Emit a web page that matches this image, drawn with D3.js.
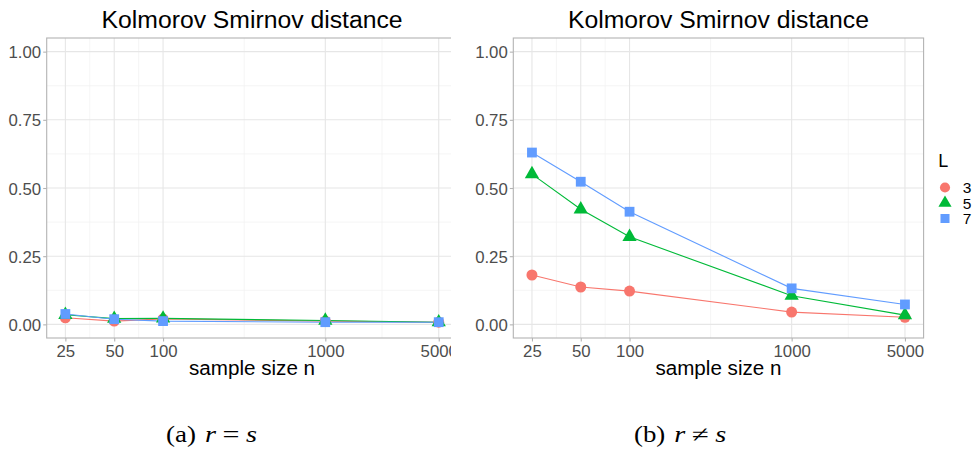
<!DOCTYPE html>
<html><head><meta charset="utf-8">
<script src="https://cdn.jsdelivr.net/npm/d3@7"></script>
<style>
html,body{margin:0;padding:0;background:#fff;}
svg{display:block;}
</style></head>
<body>
<svg id="chart" width="973" height="451"></svg>
<script>
// ---- data ----
const sampleSizes = [25, 50, 100, 1000, 5000];
const xTickLabels = ["25", "50", "100", "1000", "5000"];
const yTicks = [0, 0.25, 0.5, 0.75, 1];
const yTickLabels = ["0.00", "0.25", "0.50", "0.75", "1.00"];
const seriesNames = ["3", "5", "7"];
const colors = ["#F8766D", "#00BA38", "#619CFF"];
const title = "Kolmorov Smirnov distance";
const xTitle = "sample size n";
const legendTitle = "L";

// panel (a) r = s
const eqL3 = [0.024, 0.012, 0.020, 0.012, 0.008];
const eqL5 = [0.035, 0.021, 0.022, 0.014, 0.008];
const eqL7 = [0.038, 0.019, 0.012, 0.008, 0.008];
// panel (b) r != s
const neqL3 = [0.181, 0.137, 0.122, 0.045, 0.026];
const neqL5 = [0.551, 0.422, 0.321, 0.105, 0.034];
const neqL7 = [0.630, 0.523, 0.413, 0.132, 0.073];

const svg = d3.select("#chart");
const FONT = "'Liberation Sans', Arial, Helvetica, sans-serif";

const pTop = 38, pBottom = 338;
const y = d3.scaleLinear().domain([-0.05, 1.05]).range([pBottom, pTop]);

const lx0 = Math.log10(d3.min(sampleSizes)), lx1 = Math.log10(d3.max(sampleSizes));
const ext = (lx1 - lx0) * 0.05;
const xDomain = [Math.pow(10, lx0 - ext), Math.pow(10, lx1 + ext)];

const shapes = [d3.symbolCircle, d3.symbolTriangle, d3.symbolSquare];
const sizes = [95, 88, 96];

// clip for left subfigure
svg.append("defs").append("clipPath").attr("id", "clipA")
  .append("rect").attr("x", 0).attr("y", 0).attr("width", 451).attr("height", 400);

function panel(g, left, right, series) {
  const x = d3.scaleLog().domain(xDomain).range([left, right]);
  const logs = sampleSizes.map(v => Math.log10(v));
  const minorX = [];
  for (let i = 0; i < logs.length - 1; i++) minorX.push(Math.pow(10, (logs[i] + logs[i + 1]) / 2));
  const minorY = [0.125, 0.375, 0.625, 0.875];
  g.selectAll(".mgx").data(minorX).enter().append("line")
    .attr("x1", d => x(d)).attr("x2", d => x(d)).attr("y1", pTop).attr("y2", pBottom)
    .attr("stroke", "#F2F2F2").attr("stroke-width", 0.8);
  g.selectAll(".mgy").data(minorY).enter().append("line")
    .attr("x1", left).attr("x2", right).attr("y1", d => y(d)).attr("y2", d => y(d))
    .attr("stroke", "#F2F2F2").attr("stroke-width", 0.8);
  g.selectAll(".gx").data(sampleSizes).enter().append("line")
    .attr("x1", d => x(d)).attr("x2", d => x(d)).attr("y1", pTop).attr("y2", pBottom)
    .attr("stroke", "#E6E6E6").attr("stroke-width", 1.1);
  g.selectAll(".gy").data(yTicks).enter().append("line")
    .attr("x1", left).attr("x2", right).attr("y1", d => y(d)).attr("y2", d => y(d))
    .attr("stroke", "#E6E6E6").attr("stroke-width", 1.1);

  const line = d3.line().x(d => x(d[0])).y(d => y(d[1]));
  series.forEach((vals, i) => {
    g.append("path").datum(sampleSizes.map((n, j) => [n, vals[j]]))
      .attr("d", line).attr("fill", "none").attr("stroke", colors[i]).attr("stroke-width", 1.1);
  });
  series.forEach((vals, i) => {
    g.selectAll(".p" + i).data(sampleSizes.map((n, j) => [n, vals[j]])).enter().append("path")
      .attr("d", d3.symbol().type(shapes[i]).size(sizes[i]))
      .attr("transform", d => `translate(${x(d[0])},${y(d[1])})`)
      .attr("fill", colors[i]);
  });

  g.append("rect").attr("x", left).attr("y", pTop).attr("width", right - left).attr("height", pBottom - pTop)
    .attr("fill", "none").attr("stroke", "#B3B3B3").attr("stroke-width", 1.1);

  const xAxis = d3.axisBottom(x).tickValues(sampleSizes).tickFormat((d, i) => xTickLabels[i])
    .tickSize(3.5).tickPadding(3);
  const ga = g.append("g").attr("transform", `translate(0,${pBottom})`).call(xAxis);
  const yAxis = d3.axisLeft(y).tickValues(yTicks).tickFormat((d, i) => yTickLabels[i])
    .tickSize(3.5).tickPadding(2);
  const gb = g.append("g").attr("transform", `translate(${left},0)`).call(yAxis);
  [ga, gb].forEach(a => {
    a.select(".domain").remove();
    a.selectAll(".tick line").attr("stroke", "#B3B3B3").attr("stroke-width", 1.1);
    a.selectAll(".tick text").attr("fill", "#4D4D4D").attr("font-family", FONT).attr("font-size", 16.8);
  });
  ga.selectAll(".tick text").attr("dy", "0.72em");
  gb.selectAll(".tick text").attr("dy", "0.36em");

  const cx = (left + right) / 2;
  g.append("text").attr("x", cx).attr("y", 28.3).attr("text-anchor", "middle")
    .attr("font-family", FONT).attr("font-size", 23.5).attr("fill", "#000")
    .attr("textLength", 301).attr("lengthAdjust", "spacingAndGlyphs").text(title);
  g.append("text").attr("x", cx).attr("y", 375).attr("text-anchor", "middle")
    .attr("font-family", FONT).attr("font-size", 19.5).attr("fill", "#000")
    .attr("textLength", 126).attr("lengthAdjust", "spacingAndGlyphs").text(xTitle);
}

const gA = svg.append("g").attr("clip-path", "url(#clipA)");
panel(gA, 46.7, 457.4, [eqL3, eqL5, eqL7]);
const gB = svg.append("g");
panel(gB, 513.3, 923.6, [neqL3, neqL5, neqL7]);

// legend
const lg = svg.append("g");
lg.append("text").attr("x", 938.3).attr("y", 166.7).attr("font-family", FONT)
  .attr("font-size", 18).attr("fill", "#000").text(legendTitle);
seriesNames.forEach((s, i) => {
  const ky = 187.5 + i * 15.5;
  lg.append("path").attr("d", d3.symbol().type(shapes[i]).size(sizes[i] * 0.85))
    .attr("transform", `translate(945,${ky})`).attr("fill", colors[i]);
  lg.append("text").attr("x", 962.7).attr("y", ky + 5.5).attr("font-family", FONT)
    .attr("font-size", 15.5).attr("fill", "#000").text(s);
});

// captions
const SERIF = "'Liberation Serif', 'DejaVu Serif', serif";
function piece(x, txt, w, italic) {
  svg.append("text").attr("x", x).attr("y", 442)
    .attr("font-family", SERIF).attr("font-size", 23).attr("fill", "#000")
    .attr("font-style", italic ? "italic" : "normal")
    .attr("textLength", w).attr("lengthAdjust", "spacingAndGlyphs").text(txt);
}
function caption(x0, label, labelW, rel) {
  piece(x0, label, labelW, false);
  piece(x0 + labelW + 9, "r", 11, true);
  piece(x0 + labelW + 26.5, rel, 17, false);
  piece(x0 + labelW + 50, "s", 11, true);
}
caption(166, "(a)", 30, "=");
caption(634, "(b)", 31.3, "≠");
</script>
</body></html>
